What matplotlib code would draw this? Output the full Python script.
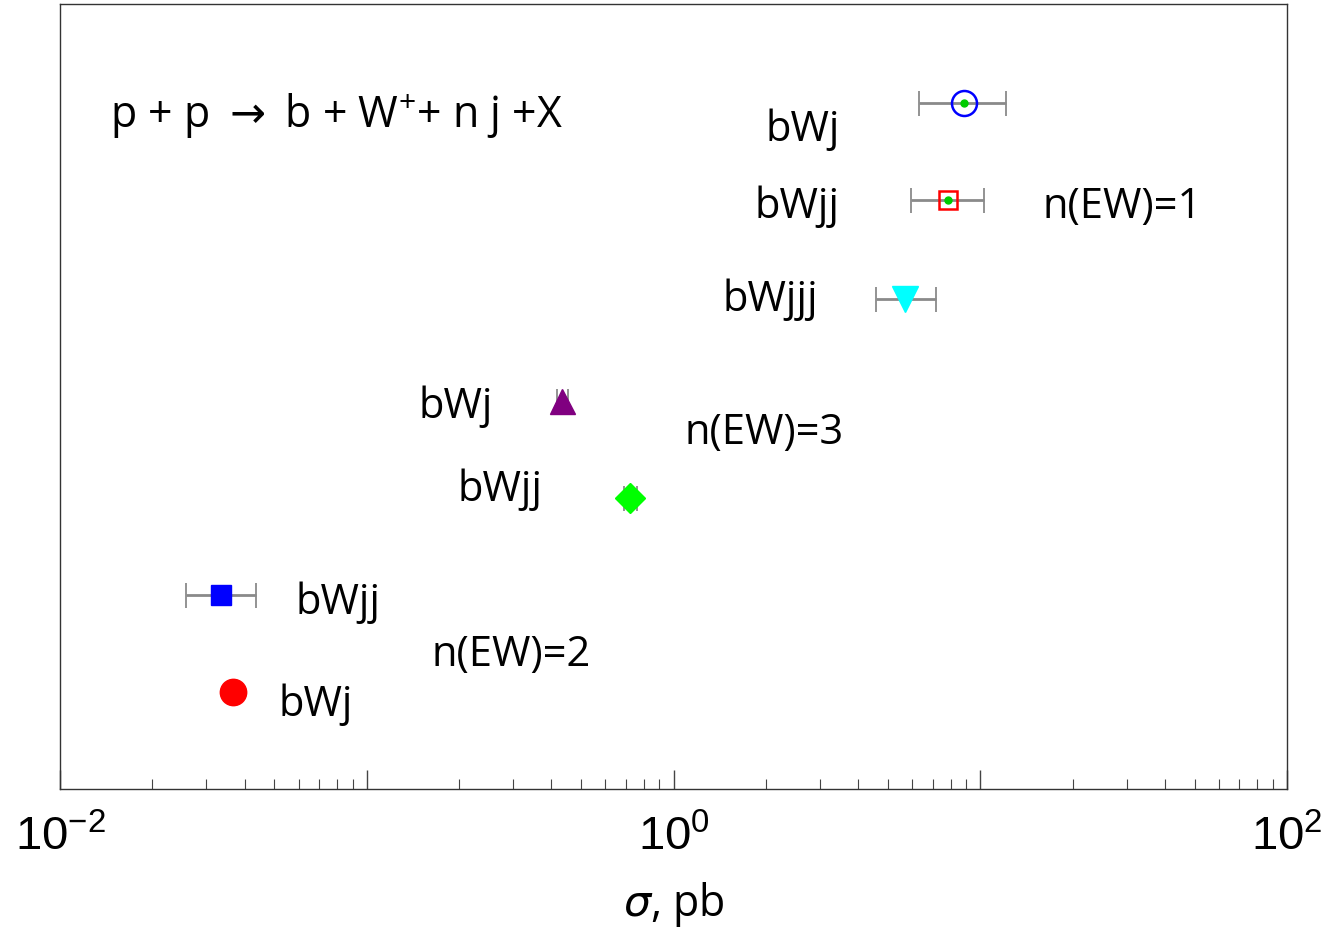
# Cross sections for p + p -> b + W+ + n j + X
import numpy as np
import matplotlib.pyplot as plt
from matplotlib.ticker import FixedLocator, LogLocator, NullFormatter


# Data (sigma in pb, level on the vertical axis)
names   = ['bWj n1', 'bWjj n1', 'bWjjj n1', 'bWj n3', 'bWjj n3', 'bWjj n2', 'bWj n2']
sigma   = [8.87, 7.87, 5.68, 0.432, 0.72, 0.0334, 0.0366]
sig_lo  = [6.31, 5.94, 4.57, 0.416, 0.69, 0.0257, None]
sig_hi  = [12.1, 10.3, 7.17, 0.454, 0.76, 0.0435, None]
level   = [7.07, 6.07, 5.05, 4.0, 3.0, 2.0, 1.0]

# Labels on the plot: text, sigma position, level
labels = [
    ('bWj', 1.99, 6.80),
    ('bWjj', 1.84, 6.01),
    ('n(EW)=1', 16.0, 6.01),
    ('bWjjj', 1.44, 5.05),
    ('bWj', 0.147, 3.95),
    ('n(EW)=3', 1.09, 3.68),
    ('bWjj', 0.197, 3.09),
    ('bWjj', 0.0584, 1.93),
    ('n(EW)=2', 0.162, 1.39),
    ('bWj', 0.0514, 0.876),
]


fig = plt.figure(figsize=(13.31, 9.37), dpi=100)
axes = fig.add_axes([60/1331, 147/937, 1227/1331, 785/937])

ebar = dict(fmt='none', ecolor='#8a8a8a', elinewidth=2, capsize=9, capthick=1.3, zorder=2)

# Error bars
for s, lo, hi, y in zip(sigma, sig_lo, sig_hi, level):
    if lo is None:
        continue
    axes.errorbar([s], [y], xerr=[[s - lo], [hi - s]], **ebar)

# Markers
axes.plot(sigma[0], level[0], 'o', ms=18, mfc='none', mec='blue', mew=1.8, zorder=3)
axes.plot(sigma[0], level[0], 'o', ms=5, color='#00cc00', zorder=4)
axes.plot(sigma[1], level[1], 's', ms=13, mfc='none', mec='red', mew=1.8, zorder=3)
axes.plot(sigma[1], level[1], 'o', ms=5, color='#00cc00', zorder=4)
axes.plot(sigma[2], level[2], 'v', ms=19, color='cyan', mec='cyan', zorder=3)
axes.plot(sigma[3], level[3], '^', ms=18, color='purple', zorder=3)
axes.plot(sigma[4], level[4], 'D', ms=15, color='#00ff00', zorder=3)
axes.plot(sigma[5], level[5], 's', ms=15, color='blue', zorder=3)
axes.plot(sigma[6], level[6], 'o', ms=19, color='red', zorder=3)

# Texts
for txt, x, y in labels:
    axes.text(x, y, txt, fontsize=30, family='Open Sans', ha='left', va='center')

axes.text(0.01456, 6.94,
          r'p + p $\rightarrow$ b + W$^{\mathdefault{+}}$+ n j +X',
          fontsize=31, family='Open Sans', ha='left', va='center')

# Axes
axes.set_xscale('log')
axes.set_xlim(0.01, 100)
axes.set_ylim(0, 8.09)
axes.set_yticks([])
axes.xaxis.set_major_locator(FixedLocator([0.01, 0.1, 1, 10, 100]))
axes.set_xticklabels([r'$\mathdefault{10^{-2}}$', '', r'$\mathdefault{10^{0}}$', '',
                      r'$\mathdefault{10^{2}}$'], fontsize=34, family='Liberation Sans')
axes.xaxis.set_minor_locator(LogLocator(base=10, subs=np.arange(2, 10), numticks=20))
axes.xaxis.set_minor_formatter(NullFormatter())
axes.tick_params(axis='x', which='major', direction='in', length=14, width=1, color='#444444', pad=18)
axes.tick_params(axis='x', which='minor', direction='in', length=7, width=0.8, color='#444444')
axes.set_xlabel(r'$\sigma$, pb', fontsize=31, family='Open Sans', labelpad=14)
for sp in axes.spines.values():
    sp.set_color('#333333')
    sp.set_linewidth(1.0)

plt.savefig('out.png', dpi=100)
